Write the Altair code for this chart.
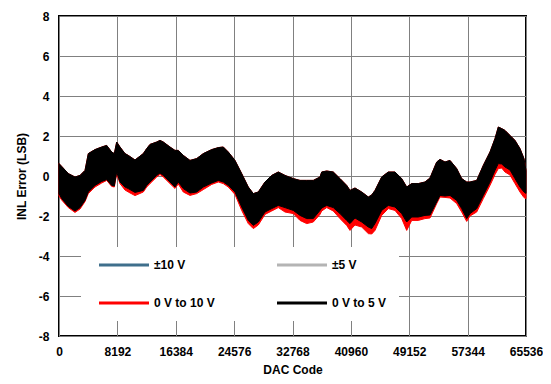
import altair as alt
import pandas as pd

# DAC code positions and band envelopes (INL, LSB)
codes = [0, 379, 1305, 2245, 2947, 3649, 4112, 5052, 5992, 6694, 7395, 7760, 8097, 8560,
         9262, 9725, 10665, 11830, 12307, 12770, 13710, 14173, 14636, 15577, 16278, 16741,
         17443, 18383, 19323, 20250, 21428, 22355, 23056, 23758, 24698, 25638, 26564, 27266,
         27968, 28908, 29849, 30775, 31715, 32879, 33820, 34760, 35686, 36626, 36865, 37567,
         38493, 39433, 40374, 40837, 41538, 42479, 43405, 43882, 44345, 45286, 46212, 47152,
         48092, 48794, 49495, 50421, 51361, 52062, 53003, 53466, 54168, 54869, 55810, 56511,
         57213, 57677, 58617, 59543, 60483, 61185, 61648, 62125, 62588, 63290, 63992, 64693,
         65254, 65535]
upper_5v = [0.62, 0.48, 0.12, -0.05, 0.03, 0.28, 1.12, 1.32, 1.45, 1.53, 1.20, 1.12, 1.70, 1.45,
            1.12, 1.03, 0.80, 1.12, 1.37, 1.58, 1.70, 1.78, 1.70, 1.45, 1.28, 1.28,
            1.03, 0.78, 0.87, 1.12, 1.32, 1.42, 1.45, 1.20, 0.78, 0.12, -0.55, -0.88,
            -0.80, -0.30, 0.03, 0.20, 0.03, -0.13, -0.22, -0.22, -0.22, -0.05, 0.20, 0.25,
            0.20, -0.13, -0.47, -0.72, -0.60, -0.80, -1.05, -0.95, -0.72, -0.05, 0.20, 0.20,
            -0.13, -0.55, -0.38, -0.38, -0.30, -0.10, 0.70, 0.83, 0.70, 0.78, 0.37, -0.13,
            -0.30, -0.30, -0.22, 0.53, 1.20, 1.87, 2.45, 2.37, 2.28, 2.03, 1.78, 1.37,
            0.87, 0.28]
lower_5v = [-0.88, -1.13, -1.52, -1.75, -1.58, -1.22, -0.80, -0.47, -0.27, -0.18, -0.47, -0.50, 0.20, -0.30,
            -0.55, -0.63, -0.82, -0.72, -0.47, -0.30, 0.03, 0.15, 0.03, -0.30, -0.55, -0.30,
            -0.63, -0.85, -0.80, -0.55, -0.35, -0.22, -0.30, -0.47, -0.80, -1.55, -2.22, -2.47,
            -2.30, -1.80, -1.63, -1.47, -1.58, -1.72, -1.97, -2.13, -2.13, -1.72, -1.60, -1.47,
            -1.58, -1.88, -2.22, -2.38, -2.10, -2.30, -2.55, -2.63, -2.38, -1.72, -1.47, -1.55,
            -1.88, -2.30, -2.05, -2.05, -1.97, -1.95, -1.30, -0.97, -1.00, -0.97, -1.22, -1.63,
            -2.13, -1.88, -1.63, -0.97, -0.30, 0.28, 0.62, 0.60, 0.45, 0.30, -0.13, -0.55,
            -0.80, -0.87]
lower_10v = [-1.00, -1.20, -1.58, -1.82, -1.65, -1.28, -0.88, -0.55, -0.35, -0.22, -0.52, -0.55, 0.10, -0.38,
             -0.70, -0.80, -0.98, -0.80, -0.55, -0.38, -0.05, 0.08, -0.05, -0.38, -0.62, -0.40,
             -0.80, -0.97, -0.88, -0.68, -0.42, -0.30, -0.38, -0.55, -0.92, -1.72, -2.38, -2.63,
             -2.45, -1.92, -1.75, -1.58, -1.80, -1.88, -2.22, -2.38, -2.30, -1.92, -1.75, -1.58,
             -1.75, -2.13, -2.47, -2.72, -2.45, -2.55, -2.88, -2.90, -2.72, -1.97, -1.63, -1.72,
             -2.13, -2.72, -2.22, -2.22, -2.13, -2.10, -1.38, -1.05, -1.07, -1.10, -1.38, -1.80,
             -2.27, -2.00, -1.80, -1.13, -0.47, 0.07, 0.37, 0.40, 0.20, 0.05, -0.38, -0.80,
             -1.08, -1.13]

# legend order (column-major in a 2-column legend)
series_names = ["±10 V", "0 V to 10 V", "±5 V", "0 V to 5 V"]
series_colors = ["#3f6f8c", "#ff0000", "#b4b4b4", "#000000"]
x_ticks = [0, 8192, 16384, 24576, 32768, 40960, 49152, 57344, 65536]
y_ticks = [-8, -6, -4, -2, 0, 2, 4, 6, 8]

df_red = pd.DataFrame({"code": codes, "lo": lower_10v, "hi": upper_5v, "series": "0 V to 10 V"})
df_black = pd.DataFrame({"code": codes, "lo": lower_5v, "hi": upper_5v, "series": "0 V to 5 V"})

FONT = "Liberation Sans"

legend = alt.Legend(
    orient="none", legendX=22, legendY=231, columns=2, title=None,
    symbolType="M-12.5,0H12.5", symbolSize=16, symbolStrokeWidth=3,
    symbolOffset=25,
    labelFont=FONT, labelFontSize=12, labelFontWeight="bold", labelColor="black",
    labelOffset=24, fillColor="white", padding=12, rowPadding=26, columnPadding=56,
)
scale = alt.Scale(domain=series_names, range=series_colors)
fill = alt.Fill("series:N", scale=scale, legend=legend)
stroke = alt.Stroke("series:N", scale=scale, legend=legend)

x = alt.X("code:Q", scale=alt.Scale(domain=[0, 65536], nice=False, zero=False),
          axis=alt.Axis(values=x_ticks, title="DAC Code", format="d"))
y = alt.Y("lo:Q", scale=alt.Scale(domain=[-8, 8], nice=False),
          axis=alt.Axis(values=y_ticks, title="INL Error (LSB)",
                        labelExpr="replace(datum.label, '\u2212', '-')"))

red = alt.Chart(df_red).mark_area(opacity=1).encode(x=x, y=y, y2="hi:Q", fill=fill, stroke=stroke)
black = alt.Chart(df_black).mark_area(opacity=1).encode(x=x, y=y, y2="hi:Q", fill=fill, stroke=stroke)

chart = alt.layer(red, black).properties(
    width=467, height=320, autosize="none",
    padding={"left": 51, "top": 8, "right": 17, "bottom": 40},
).configure_view(
    stroke="black", strokeWidth=2,
).configure_axis(
    labelFont=FONT, labelFontSize=12, labelFontWeight="bold", labelColor="black",
    titleFont=FONT, titleFontSize=12, titleFontWeight="bold", titleColor="black",
    grid=True, gridColor="#808080", gridWidth=1, gridOpacity=1,
    domain=False, ticks=False, labelPadding=10,
).configure_axisX(titlePadding=7, labelFlush=False).configure_axisY(titlePadding=10)

chart.save("out.html", embed_options={"renderer": "svg", "actions": False})
